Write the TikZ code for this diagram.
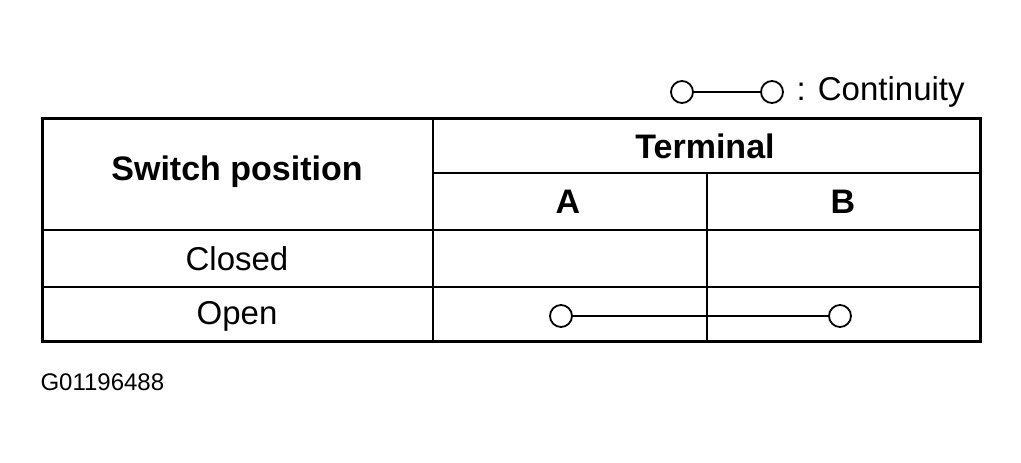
\documentclass[tikz,border=0pt]{standalone}
\usepackage{fontspec}
\setmainfont{Liberation Sans}
\begin{document}
\begin{tikzpicture}[x=1pt,y=-1pt,
  thin/.style={line width=1.5pt},
  thick/.style={line width=3pt},
  circ/.style={circle,draw,line width=1.8pt,minimum size=22pt,inner sep=0pt},
  hd/.style={font=\fontsize{34}{38}\selectfont\bfseries},
  tx/.style={font=\fontsize{33}{38}\selectfont}]
\useasboundingbox (0,0) rectangle (1021,463);
\draw[thin] (433,118) -- (433,341);
\draw[thin] (707,173) -- (707,341);
\draw[thin] (433,173) -- (980,173);
\draw[thin] (42,230) -- (980,230);
\draw[thin] (42,287) -- (980,287);
\draw[thick] (42,118) rectangle (980,341);
\node[hd] (sp) at (237,172) {Switch position};
\node[hd] (t) at (705,146) {Terminal};
\node[hd] (a) at (568,202) {A};
\node[hd] (b) at (843,202) {B};
\node[tx] (cl) at (237,259) {Closed};
\node[tx] (op) at (237,316) {Open};
\node[circ] (oa) at (561,316) {};
\node[circ] (ob) at (840,316) {};
\draw[line width=2.2pt] (oa) -- (ob);
\node[circ] (la) at (682,92) {};
\node[circ] (lb) at (772,92) {};
\draw[line width=2.2pt] (la) -- (lb);
\node[tx,anchor=west] (lt) at (793,92) {: Continuity};
\node[font=\fontsize{24}{26}\selectfont,anchor=west] (g) at (37,382) {G01196488};
\end{tikzpicture}
\end{document}
